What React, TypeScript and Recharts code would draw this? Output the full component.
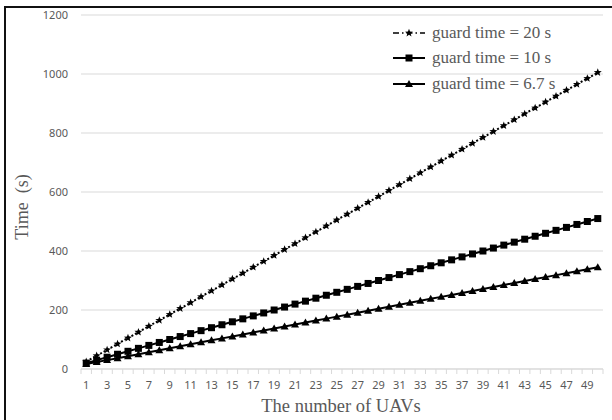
import React from 'react';
import { LineChart, Line, XAxis, YAxis, CartesianGrid } from 'recharts';

// number of UAVs (categories)
const categories = [
  1, 2, 3, 4, 5, 6, 7, 8, 9, 10, 11, 12, 13, 14, 15, 16, 17, 18, 19, 20, 21, 22, 23, 24, 25,
  26, 27, 28, 29, 30, 31, 32, 33, 34, 35, 36, 37, 38, 39, 40, 41, 42, 43, 44, 45, 46, 47, 48, 49, 50,
];

// time (s) for guard time = 20 s
const guard20 = [
  25, 45, 65, 85, 105, 125, 145, 165, 185, 205, 225, 245, 265, 285, 305, 325, 345, 365, 385, 405,
  425, 445, 465, 485, 505, 525, 545, 565, 585, 605, 625, 645, 665, 685, 705, 725, 745, 765, 785, 805,
  825, 845, 865, 885, 905, 925, 945, 965, 985, 1005,
];

// time (s) for guard time = 10 s
const guard10 = [
  20, 30, 40, 50, 60, 70, 80, 90, 100, 110, 120, 130, 140, 150, 160, 170, 180, 190, 200, 210,
  220, 230, 240, 250, 260, 270, 280, 290, 300, 310, 320, 330, 340, 350, 360, 370, 380, 390, 400, 410,
  420, 430, 440, 450, 460, 470, 480, 490, 500, 510,
];

// time (s) for guard time = 6.7 s
const guard67 = [
  16.7, 23.4, 30.1, 36.8, 43.5, 50.2, 56.9, 63.6, 70.3, 77, 83.7, 90.4, 97.1, 103.8, 110.5, 117.2,
  123.9, 130.6, 137.3, 144, 150.7, 157.4, 164.1, 170.8, 177.5, 184.2, 190.9, 197.6, 204.3, 211,
  217.7, 224.4, 231.1, 237.8, 244.5, 251.2, 257.9, 264.6, 271.3, 278, 284.7, 291.4, 298.1, 304.8,
  311.5, 318.2, 324.9, 331.6, 338.3, 345,
];

const yTicks = [0, 200, 400, 600, 800, 1000, 1200];
const seriesNames = ['guard time = 20 s', 'guard time = 10 s', 'guard time = 6.7 s'];

const data = categories.map((n, i) => ({
  n,
  g20: guard20[i],
  g10: guard10[i],
  g67: guard67[i],
}));

const W = 612;
const H = 420;
const PLOT_LEFT = 81;
const PLOT_RIGHT = 9;
const PLOT_W = W - PLOT_LEFT - PLOT_RIGHT;
const GREY = '#595959';
const TICK_FONT = '"Noto Sans", sans-serif';
const SERIF = '"Liberation Serif", "Times New Roman", serif';

const Star = ({ cx, cy, size = 4.2 }: { cx: number; cy: number; size?: number }) => {
  const pts: string[] = [];
  for (let k = 0; k < 10; k++) {
    const r = k % 2 === 0 ? size : size * 0.42;
    const a = -Math.PI / 2 + (k * Math.PI) / 5;
    pts.push(`${cx + r * Math.cos(a)},${cy + r * Math.sin(a)}`);
  }
  return <polygon points={pts.join(' ')} fill="#000" />;
};

const StarDot = (props: any) => {
  const { cx, cy } = props;
  if (cx == null || cy == null) return null;
  return <Star cx={cx} cy={cy} />;
};

const SquareDot = (props: any) => {
  const { cx, cy } = props;
  if (cx == null || cy == null) return null;
  return <rect x={cx - 3.5} y={cy - 3.5} width={7} height={7} fill="#000" />;
};

const TriDot = (props: any) => {
  const { cx, cy } = props;
  if (cx == null || cy == null) return null;
  return <polygon points={`${cx},${cy - 4} ${cx + 4},${cy + 3} ${cx - 4},${cy + 3}`} fill="#000" />;
};

const XTick = (props: any) => {
  const { x, y, payload, index } = props;
  const half = PLOT_W / categories.length / 2;
  const isLast = index === categories.length - 1;
  return (
    <g>
      <line x1={x - half} x2={x - half} y1={y} y2={y + 5} stroke="#d9d9d9" />
      {isLast && <line x1={x + half} x2={x + half} y1={y} y2={y + 5} stroke="#d9d9d9" />}
      {payload.value % 2 === 1 && (
        <text x={x} y={y + 20} textAnchor="middle" fill={GREY} fontSize={11} fontFamily={TICK_FONT}>
          {payload.value}
        </text>
      )}
    </g>
  );
};

const LegendBox = () => {
  const sym = [
    (
      <svg width={32} height={12}>
        <line x1={0} x2={32} y1={6} y2={6} stroke="#000" strokeWidth={1.5} strokeDasharray="6 3 1.5 3" />
        <Star cx={16} cy={6} />
      </svg>
    ),
    (
      <svg width={32} height={12}>
        <line x1={0} x2={32} y1={6} y2={6} stroke="#000" strokeWidth={2} />
        <rect x={12.5} y={2.5} width={7} height={7} fill="#000" />
      </svg>
    ),
    (
      <svg width={32} height={12}>
        <line x1={0} x2={32} y1={6} y2={6} stroke="#000" strokeWidth={2} />
        <polygon points="16,2 20,9 12,9" fill="#000" />
      </svg>
    ),
  ];
  return (
    <div style={{ position: 'absolute', left: 393, top: 20 }}>
      {seriesNames.map((name, i) => (
        <div key={name} style={{ display: 'flex', alignItems: 'center', height: 25.5 }}>
          {sym[i]}
          <span style={{ marginLeft: 7, fontFamily: SERIF, fontSize: 17, color: GREY, lineHeight: '20px', whiteSpace: 'pre' }}>
            {name}
          </span>
        </div>
      ))}
    </div>
  );
};

export default function App() {
  return (
    <div style={{ position: 'fixed', left: 0, top: 0, width: W, height: H, background: '#fff' }}>
      <div style={{ position: 'absolute', left: 4, top: 6, width: W - 4, height: 1.5, background: '#111' }} />
      <div style={{ position: 'absolute', left: 4, top: 6, width: 1.5, height: H - 6, background: '#111' }} />
      <div style={{ position: 'absolute', left: 0, top: 0 }}>
        <LineChart width={W} height={H} data={data} margin={{ top: 15, right: PLOT_RIGHT, left: 0, bottom: 0 }}>
          <CartesianGrid vertical={false} stroke="#d9d9d9" />
          <XAxis
            dataKey="n"
            type="number"
            domain={[0.5, 50.5]}
            ticks={categories}
            interval={0}
            height={51}
            tickSize={0}
            tickMargin={0}
            tickLine={false}
            axisLine={{ stroke: '#d9d9d9' }}
            tick={<XTick />}
          />
          <YAxis
            domain={[0, 1200]}
            ticks={yTicks}
            width={PLOT_LEFT}
            axisLine={false}
            tickLine={false}
            tickSize={0}
            tickMargin={13}
            tick={{ fill: GREY, fontSize: 11, fontFamily: TICK_FONT }}
          />
          <Line
            dataKey="g20"
            stroke="#000"
            strokeWidth={2}
            strokeDasharray="2 2"
            dot={<StarDot />}
            isAnimationActive={false}
          />
          <Line dataKey="g10" stroke="#000" strokeWidth={2} dot={<SquareDot />} isAnimationActive={false} />
          <Line dataKey="g67" stroke="#000" strokeWidth={2} dot={<TriDot />} isAnimationActive={false} />
        </LineChart>
      </div>
      <LegendBox />
      <div
        style={{
          position: 'absolute',
          left: 22,
          top: 207,
          transform: 'translate(-50%, -50%) rotate(-90deg)',
          fontFamily: SERIF,
          fontSize: 18,
          color: GREY,
          whiteSpace: 'pre',
        }}
      >
        {'Time  (s)'}
      </div>
      <div
        style={{
          position: 'absolute',
          left: 341,
          top: 406,
          transform: 'translate(-50%, -50%)',
          fontFamily: SERIF,
          fontSize: 18.5,
          color: GREY,
          whiteSpace: 'pre',
        }}
      >
        The number of UAVs
      </div>
    </div>
  );
}
